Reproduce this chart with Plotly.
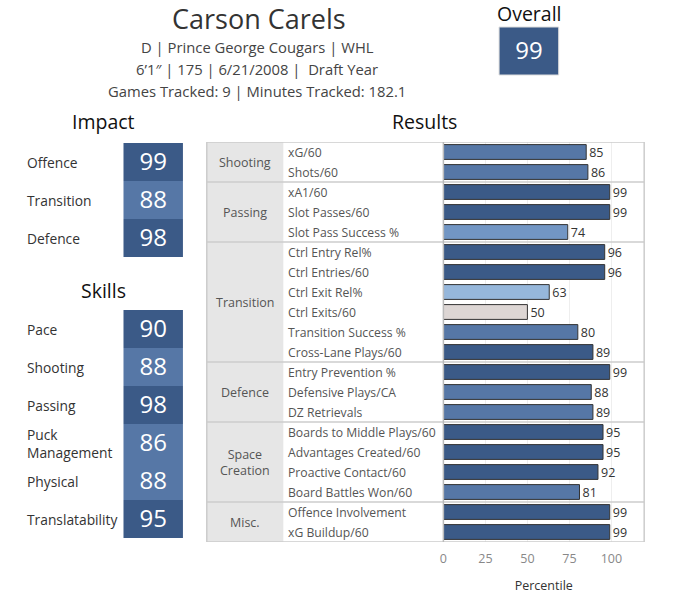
import plotly.graph_objects as go

W, H = 676, 597
FONT = "Open Sans"
DARK = "#3B5A87"
MID = "#5677A6"
LIGHT = "#7296C4"
LIGHTER = "#96B7DB"
BEIGE = "#DDD6D4"

# header
PLAYER = "Carson Carels"
INFO_LINES = [
    "D | Prince George Cougars | WHL",
    "6\u20191\u2033 | 175 | 6/21/2008 |  Draft Year",
    "Games Tracked: 9 | Minutes Tracked: 182.1",
]
OVERALL = 99

# left panels
IMPACT_LABELS = ["Offence", "Transition", "Defence"]
IMPACT_VALUES = [99, 88, 98]
SKILL_LABELS = ["Pace", "Shooting", "Passing", "Puck<br>Management", "Physical", "Translatability"]
SKILL_VALUES = [90, 88, 98, 86, 88, 95]

# results
GROUPS = ["Shooting", "Passing", "Transition", "Defence", "Space<br>Creation", "Misc."]
GROUP_SIZES = [2, 3, 6, 3, 4, 2]
METRICS = [
    "xG/60", "Shots/60",
    "xA1/60", "Slot Passes/60", "Slot Pass Success %",
    "Ctrl Entry Rel%", "Ctrl Entries/60", "Ctrl Exit Rel%", "Ctrl Exits/60",
    "Transition Success %", "Cross-Lane Plays/60",
    "Entry Prevention %", "Defensive Plays/CA", "DZ Retrievals",
    "Boards to Middle Plays/60", "Advantages Created/60", "Proactive Contact/60",
    "Board Battles Won/60",
    "Offence Involvement", "xG Buildup/60",
]
PERCENTILES = [85, 86, 99, 99, 74, 96, 96, 63, 50, 80, 89, 99, 88, 89, 95, 95, 92, 81, 99, 99]
BAR_COLORS = [MID, MID, DARK, DARK, LIGHT, DARK, DARK, LIGHTER, BEIGE, MID, DARK,
              DARK, MID, MID, DARK, DARK, DARK, MID, DARK, DARK]


def px(x):
    return x / W


def py(y):
    return 1 - y / H


def label(text, x, y, size, color, xref="paper", yref="paper", xanchor="center"):
    return dict(text=text, x=x, y=y, xref=xref, yref=yref, xanchor=xanchor, yanchor="middle",
                align="left" if xanchor == "left" else "center", showarrow=False,
                font=dict(family=FONT, size=size, color=color))


fig = go.Figure()

# results bars
rows = list(range(len(METRICS)))
fig.add_trace(
    go.Bar(
        x=PERCENTILES,
        y=rows,
        orientation="h",
        width=0.74,
        marker=dict(color=BAR_COLORS, line=dict(color="#333333", width=1)),
        text=PERCENTILES,
        textposition="outside",
        constraintext="none",
        textfont=dict(family=FONT, size=12.5, color="#333333"),
        cliponaxis=False,
        hoverinfo="skip",
    )
)

# score tiles (threshold at 90: dark above, mid below)
tile_scale = [[0, MID], [0.5, MID], [0.5, DARK], [1, DARK]]


def tiles(values, labels, xa, ya):
    return go.Heatmap(
        z=[[v] for v in values],
        x=[0],
        y=labels,
        zmin=80,
        zmax=100,
        colorscale=tile_scale,
        showscale=False,
        texttemplate="%{z}",
        textfont=dict(family=FONT, size=24, color="white"),
        hoverinfo="skip",
        xaxis=xa,
        yaxis=ya,
    )


fig.add_trace(tiles(IMPACT_VALUES, IMPACT_LABELS, "x2", "y2"))
fig.add_trace(tiles(SKILL_VALUES, SKILL_LABELS, "x3", "y3"))
fig.add_trace(tiles([OVERALL], ["Overall"], "x4", "y4"))

annotations = []
shapes = []

# header text
annotations.append(label(PLAYER, px(257), py(19), 27, "#333333"))
for i, line in enumerate(INFO_LINES):
    annotations.append(label(line, px(255), py(47 + i * 22), 14.8, "#444444"))
for text, x, y in [("Overall", 529, 13), ("Impact", 100, 122), ("Skills", 100, 290), ("Results", 423, 122)]:
    annotations.append(label(text, px(x), py(y), 19.5, "#111111"))

# tile labels
for labels, ya in [(IMPACT_LABELS, "y2"), (SKILL_LABELS, "y3")]:
    for lab in labels:
        annotations.append(label(lab, px(21), lab, 13.8, "#333333", yref=ya, xanchor="left"))

# results table: category column, separators, metric labels
left, mid, axis_x, right = px(204), px(281), px(442), px(644)
n_rows = len(METRICS)
shapes.append(dict(type="rect", xref="paper", yref="y", x0=left, x1=mid, y0=-0.5, y1=n_rows - 0.5,
                   fillcolor="#E6E6E6", line=dict(width=0), layer="below"))
start = 0
for g, n in zip(GROUPS, GROUP_SIZES):
    annotations.append(label(g, (left + mid) / 2, start + (n - 1) / 2, 12.5, "#555555", yref="y"))
    if start > 0:
        shapes.append(dict(type="line", xref="paper", yref="y", x0=left, x1=right,
                           y0=start - 0.5, y1=start - 0.5, line=dict(color="#CCCCCC", width=1.5)))
    start += n
shapes.append(dict(type="rect", xref="paper", yref="y", x0=left, x1=right, y0=-0.5, y1=n_rows - 0.5,
                   line=dict(color="#CCCCCC", width=1.5)))
shapes.append(dict(type="line", xref="paper", yref="y", x0=axis_x, x1=axis_x, y0=-0.5, y1=n_rows - 0.5,
                   line=dict(color="#BBBBBB", width=1.5)))
for i, m in enumerate(METRICS):
    annotations.append(label(m, px(284), i, 12.2, "#555555", yref="y", xanchor="left"))

# light frame around the overall box
shapes.append(dict(type="rect", xref="paper", yref="paper", x0=px(498), x1=px(558), y0=py(75), y1=py(27),
                   line=dict(color="#DDDDDD", width=1)))

fig.update_layout(
    width=W,
    height=H,
    margin=dict(l=0, r=0, t=0, b=0),
    paper_bgcolor="white",
    plot_bgcolor="rgba(0,0,0,0)",
    showlegend=False,
    font=dict(family=FONT, color="#333333"),
    annotations=annotations,
    shapes=shapes,
    xaxis=dict(domain=[axis_x, right], range=[0, 119.5], tickvals=[0, 25, 50, 75, 100],
               showgrid=True, gridcolor="#EEEEEE", zeroline=False, showline=False,
               tickfont=dict(family=FONT, size=12.5, color="#888888"), ticks="",
               ticklabelstandoff=7,
               title=dict(text="Percentile", font=dict(family=FONT, size=12.5, color="#333333"), standoff=15)),
    yaxis=dict(domain=[py(542), py(142)], range=[n_rows - 0.5, -0.5], showticklabels=False,
               showgrid=False, zeroline=False, fixedrange=True),
    xaxis2=dict(domain=[px(120), px(180)], visible=False, anchor="y2"),
    yaxis2=dict(domain=[py(257), py(143)], autorange="reversed", visible=False, anchor="x2"),
    xaxis3=dict(domain=[px(120), px(180)], visible=False, anchor="y3"),
    yaxis3=dict(domain=[py(538), py(310)], autorange="reversed", visible=False, anchor="x3"),
    xaxis4=dict(domain=[px(498), px(558)], visible=False, anchor="y4"),
    yaxis4=dict(domain=[py(75), py(27)], visible=False, anchor="x4"),
)

# drop the browser's default body margin so the figure sits at the page origin
fig.write_html("out.html", config={"displayModeBar": False},
               post_script="document.body.style.margin='0';")
